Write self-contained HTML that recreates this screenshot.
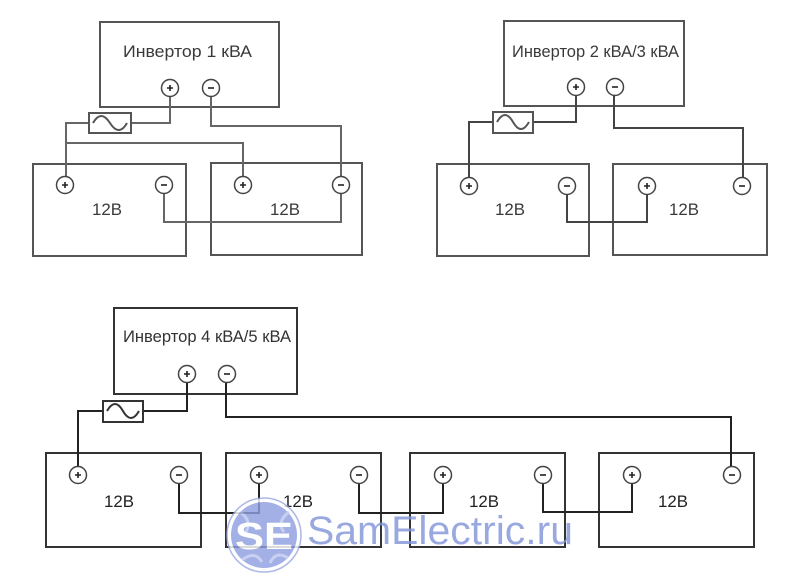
<!DOCTYPE html>
<html><head><meta charset="utf-8"><style>
html,body{margin:0;padding:0;background:#fff;}
svg{display:block;}
text{font-family:"Liberation Sans","DejaVu Sans",sans-serif;}
</style></head><body>
<svg width="802" height="580" viewBox="0 0 802 580" xmlns="http://www.w3.org/2000/svg">
<defs>
<g id="tp"><circle r="8.5" fill="#fff" stroke="#444" stroke-width="1.5"/><path d="M-3,0H3M0,-3V3" stroke="#222" stroke-width="1.6"/></g>
<g id="tm"><circle r="8.5" fill="#fff" stroke="#444" stroke-width="1.5"/><path d="M-3,0H3" stroke="#222" stroke-width="1.6"/></g>
</defs>

<!-- ===== Diagram 1 ===== -->
<g fill="none" stroke="#555" stroke-width="2">
<rect x="100" y="22" width="179" height="85"/>
<rect x="33" y="164" width="153" height="92"/>
<rect x="211" y="163" width="151" height="92"/>
</g>
<g fill="none" stroke="#666" stroke-width="2">
<path d="M170,96 V123 H131"/>
<path d="M89,123 H66 V176"/>
<path d="M66,143 H243 V176"/>
<path d="M211,96 V126 H341 V176"/>
<path d="M164,193 V222 H341 V193"/>
</g>
<rect x="89" y="113" width="42" height="20" fill="#fff" stroke="#555" stroke-width="2"/>
<path d="M93,123 Q101,109 110,123 Q119,137 127,123" fill="none" stroke="#555" stroke-width="2"/>
<use href="#tp" x="170" y="88"/><use href="#tm" x="211" y="88"/>
<use href="#tp" x="65" y="185"/><use href="#tm" x="164" y="185"/>
<use href="#tp" x="243" y="185"/><use href="#tm" x="341" y="185"/>
<text x="123" y="57" font-size="17" fill="#3a3a3a" textLength="129" lengthAdjust="spacingAndGlyphs">Инвертор 1 кВА</text>
<text x="92" y="215" font-size="17" fill="#3a3a3a" textLength="30" lengthAdjust="spacingAndGlyphs">12B</text>
<text x="270" y="215" font-size="17" fill="#3a3a3a" textLength="30" lengthAdjust="spacingAndGlyphs">12B</text>

<!-- ===== Diagram 2 ===== -->
<g fill="none" stroke="#555" stroke-width="2">
<rect x="504" y="21" width="180" height="85"/>
<rect x="437" y="164" width="152" height="92"/>
<rect x="613" y="164" width="154" height="91"/>
</g>
<g fill="none" stroke="#444" stroke-width="2">
<path d="M576,96 V122 H533"/>
<path d="M493,122 H469 V177"/>
<path d="M614,96 V128 H743 V177"/>
<path d="M567,194 V222 H647 V194"/>
</g>
<rect x="493" y="112" width="40" height="21" fill="#fff" stroke="#555" stroke-width="2"/>
<path d="M497,122 Q505,108 513,122 Q521,136 529,122" fill="none" stroke="#555" stroke-width="2"/>
<use href="#tp" x="576" y="87"/><use href="#tm" x="615" y="87"/>
<use href="#tp" x="469" y="186"/><use href="#tm" x="567" y="186"/>
<use href="#tp" x="647" y="186"/><use href="#tm" x="742" y="186"/>
<text x="512" y="57" font-size="17" fill="#3a3a3a" textLength="167" lengthAdjust="spacingAndGlyphs">Инвертор 2 кВА/3 кВА</text>
<text x="495" y="215" font-size="17" fill="#3a3a3a" textLength="30" lengthAdjust="spacingAndGlyphs">12B</text>
<text x="669" y="215" font-size="17" fill="#3a3a3a" textLength="30" lengthAdjust="spacingAndGlyphs">12B</text>

<!-- ===== Diagram 3 ===== -->
<g fill="none" stroke="#333" stroke-width="2">
<rect x="114" y="308" width="183" height="86"/>
<rect x="46" y="453" width="155" height="94"/>
<rect x="226" y="453" width="155" height="94"/>
<rect x="410" y="453" width="155" height="94"/>
<rect x="599" y="453" width="155" height="94"/>
</g>
<g fill="none" stroke="#222" stroke-width="2">
<path d="M187,383 V411 H143"/>
<path d="M103,411 H78 V467"/>
<path d="M226,383 V417 H731 V467"/>
<path d="M179,484 V513 H259 V484"/>
<path d="M359,484 V513 H443 V484"/>
<path d="M543,484 V512 H632 V484"/>
</g>
<rect x="103" y="401" width="40" height="21" fill="#fff" stroke="#333" stroke-width="2"/>
<path d="M107,411 Q115,397 123,411 Q131,425 139,411" fill="none" stroke="#333" stroke-width="2"/>
<use href="#tp" x="187" y="374"/><use href="#tm" x="227" y="374"/>
<use href="#tp" x="78" y="475"/><use href="#tm" x="179" y="475"/>
<use href="#tp" x="259" y="475"/><use href="#tm" x="359" y="475"/>
<use href="#tp" x="443" y="475"/><use href="#tm" x="543" y="475"/>
<use href="#tp" x="632" y="475"/><use href="#tm" x="732" y="475"/>
<text x="123" y="342" font-size="17" fill="#333" textLength="168" lengthAdjust="spacingAndGlyphs">Инвертор 4 кВА/5 кВА</text>
<text x="104" y="507" font-size="17" fill="#222" textLength="30" lengthAdjust="spacingAndGlyphs">12B</text>
<text x="283" y="507" font-size="17" fill="#222" textLength="30" lengthAdjust="spacingAndGlyphs">12B</text>
<text x="469" y="507" font-size="17" fill="#222" textLength="30" lengthAdjust="spacingAndGlyphs">12B</text>
<text x="658" y="507" font-size="17" fill="#222" textLength="30" lengthAdjust="spacingAndGlyphs">12B</text>

<!-- ===== Watermark ===== -->
<g opacity="0.82">
<circle cx="264" cy="535" r="37" fill="#fff" stroke="#9aa8e0" stroke-width="1.5"/>
<circle cx="264" cy="535" r="33" fill="#8f9fe0"/>
<path d="M240,512 Q252,520 246,532 M289,512 Q276,522 284,532 M242,560 Q255,550 262,562 M288,558 Q276,550 270,563" fill="none" stroke="#bcc6ee" stroke-width="3"/>
<text x="264" y="549" font-size="38" font-weight="bold" fill="#fff" text-anchor="middle" textLength="58" lengthAdjust="spacingAndGlyphs">SE</text>
<text x="307" y="544" font-size="40" fill="#8397da" textLength="266" lengthAdjust="spacingAndGlyphs">SamElectric.ru</text>
</g>
</svg>
</body></html>
